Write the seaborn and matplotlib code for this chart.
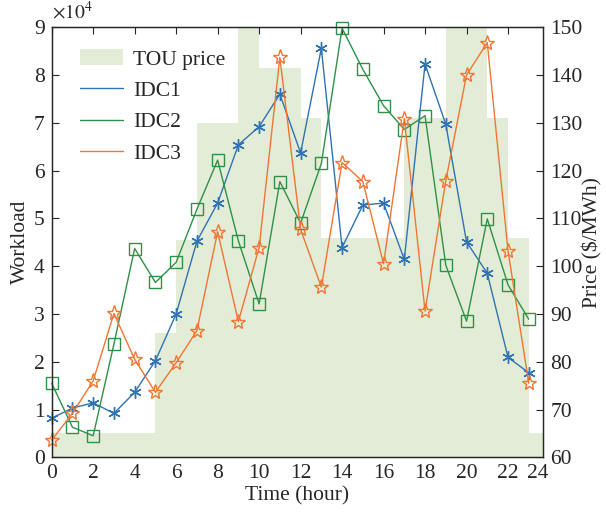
import numpy as np
import pandas as pd
import matplotlib
matplotlib.use("Agg")
import matplotlib.pyplot as plt
import seaborn as sns

# Hours of the day
hours = list(range(24))

# TOU electricity price ($/MWh), one value per hour
tou_price = [65, 65, 65, 65, 65, 86, 105.5, 130, 130, 150, 141.5, 141.5,
             131, 106, 106, 106, 106, 131, 131, 150, 150, 131, 106, 65]

# Workload of each IDC (x 1e4)
idc1 = [0.82, 1.03, 1.14, 0.92, 1.36, 2.02, 3.00, 4.52, 5.32, 6.54, 6.92, 7.60,
        6.37, 8.56, 4.39, 5.28, 5.32, 4.14, 8.23, 6.97, 4.51, 3.85, 2.09, 1.77]
idc2 = [1.55, 0.63, 0.45, 2.37, 4.37, 3.66, 4.08, 5.19, 6.22, 4.53, 3.21, 5.77,
        4.90, 6.15, 8.98, 8.12, 7.36, 6.86, 7.15, 4.02, 2.85, 4.99, 3.61, 2.89]
idc3 = [0.36, 0.92, 1.60, 3.01, 2.05, 1.36, 1.98, 2.65, 4.72, 2.84, 4.39, 8.37,
        4.77, 3.56, 6.17, 5.77, 4.05, 7.09, 3.06, 5.79, 8.00, 8.68, 4.32, 1.55]

x_ticks = list(range(0, 23, 2))

df = pd.DataFrame({"hour": hours, "IDC1": idc1, "IDC2": idc2, "IDC3": idc3})

sns.set_style("white")
plt.rcParams["font.family"] = ["Liberation Serif", "DejaVu Serif"]
plt.rcParams["mathtext.fontset"] = "stix"
plt.rcParams["xtick.direction"] = "in"
plt.rcParams["ytick.direction"] = "in"

fs = 15.5
blue, green, orange = "#2F73B3", "#2E9147", "#F07633"

fig = plt.figure(figsize=(6.06, 5.18), dpi=100)
ax = fig.add_axes([0.0853, 0.1172, 0.8112, 0.8301])
ax2 = ax.twinx()

# TOU price bars on the right axis (drawn behind the lines)
bars = ax2.bar(hours, tou_price, width=1, align="edge", color="#E3ECD6",
               linewidth=0, label="TOU price")
ax2.set_ylim(60, 150)
ax2.set_yticks(range(60, 151, 10))
ax2.tick_params(axis="y", labelsize=fs, pad=5, length=5, width=0.8)
ax2.set_ylabel(r"Price (\$/MWh)", fontsize=fs, labelpad=0)

ax.set_zorder(ax2.get_zorder() + 1)
ax.patch.set_visible(False)

sns.lineplot(data=df, x="hour", y="IDC1", ax=ax, color=blue, lw=1.0,
             marker=(6, 2, 0), markersize=9, markeredgewidth=1.0,
             markeredgecolor=blue, label="IDC1", clip_on=False)
sns.lineplot(data=df, x="hour", y="IDC2", ax=ax, color=green, lw=1.0,
             marker="s", markersize=8, markerfacecolor="none",
             markeredgewidth=1.0, markeredgecolor=green, label="IDC2",
             clip_on=False)
sns.lineplot(data=df, x="hour", y="IDC3", ax=ax, color=orange, lw=1.0,
             marker="*", markersize=11, markerfacecolor="none",
             markeredgewidth=1.0, markeredgecolor=orange, label="IDC3",
             clip_on=False)

ax.set_xlim(0, 23.7)
ax.set_ylim(0, 9)
ax.set_yticks(range(0, 10))
ax.set_xticks(x_ticks)
ax.set_xticks([23.45], minor=True)
ax.set_xticklabels(["24"], minor=True)
ax.tick_params(axis="x", which="minor", length=0, labelsize=fs, pad=5)
ax.tick_params(axis="both", which="major", labelsize=fs, pad=5, length=5,
               width=0.8, top=True)
ax.set_xlabel("Time (hour)", fontsize=fs, labelpad=2)
ax.set_ylabel("Workload", fontsize=fs, labelpad=3)
ax.text(0.0, 1.012, r"$\times10^4$", transform=ax.transAxes, fontsize=14,
        ha="left", va="bottom")

for sp in ax.spines.values():
    sp.set_linewidth(0.9)
for sp in ax2.spines.values():
    sp.set_linewidth(0.9)

# Legend with bar patch and lines (no markers)
line_handles = [plt.Line2D([], [], color=c, lw=1.0) for c in
                [blue, green, orange]]
ax.legend([bars] + line_handles, ["TOU price", "IDC1", "IDC2", "IDC3"],
          loc="upper left", frameon=False, fontsize=fs, handlelength=2.0,
          handleheight=0.8, labelspacing=0.5, handletextpad=0.45,
          bbox_to_anchor=(0.04, 0.97), borderaxespad=0.0)

fig.savefig("out.png", dpi=100)
